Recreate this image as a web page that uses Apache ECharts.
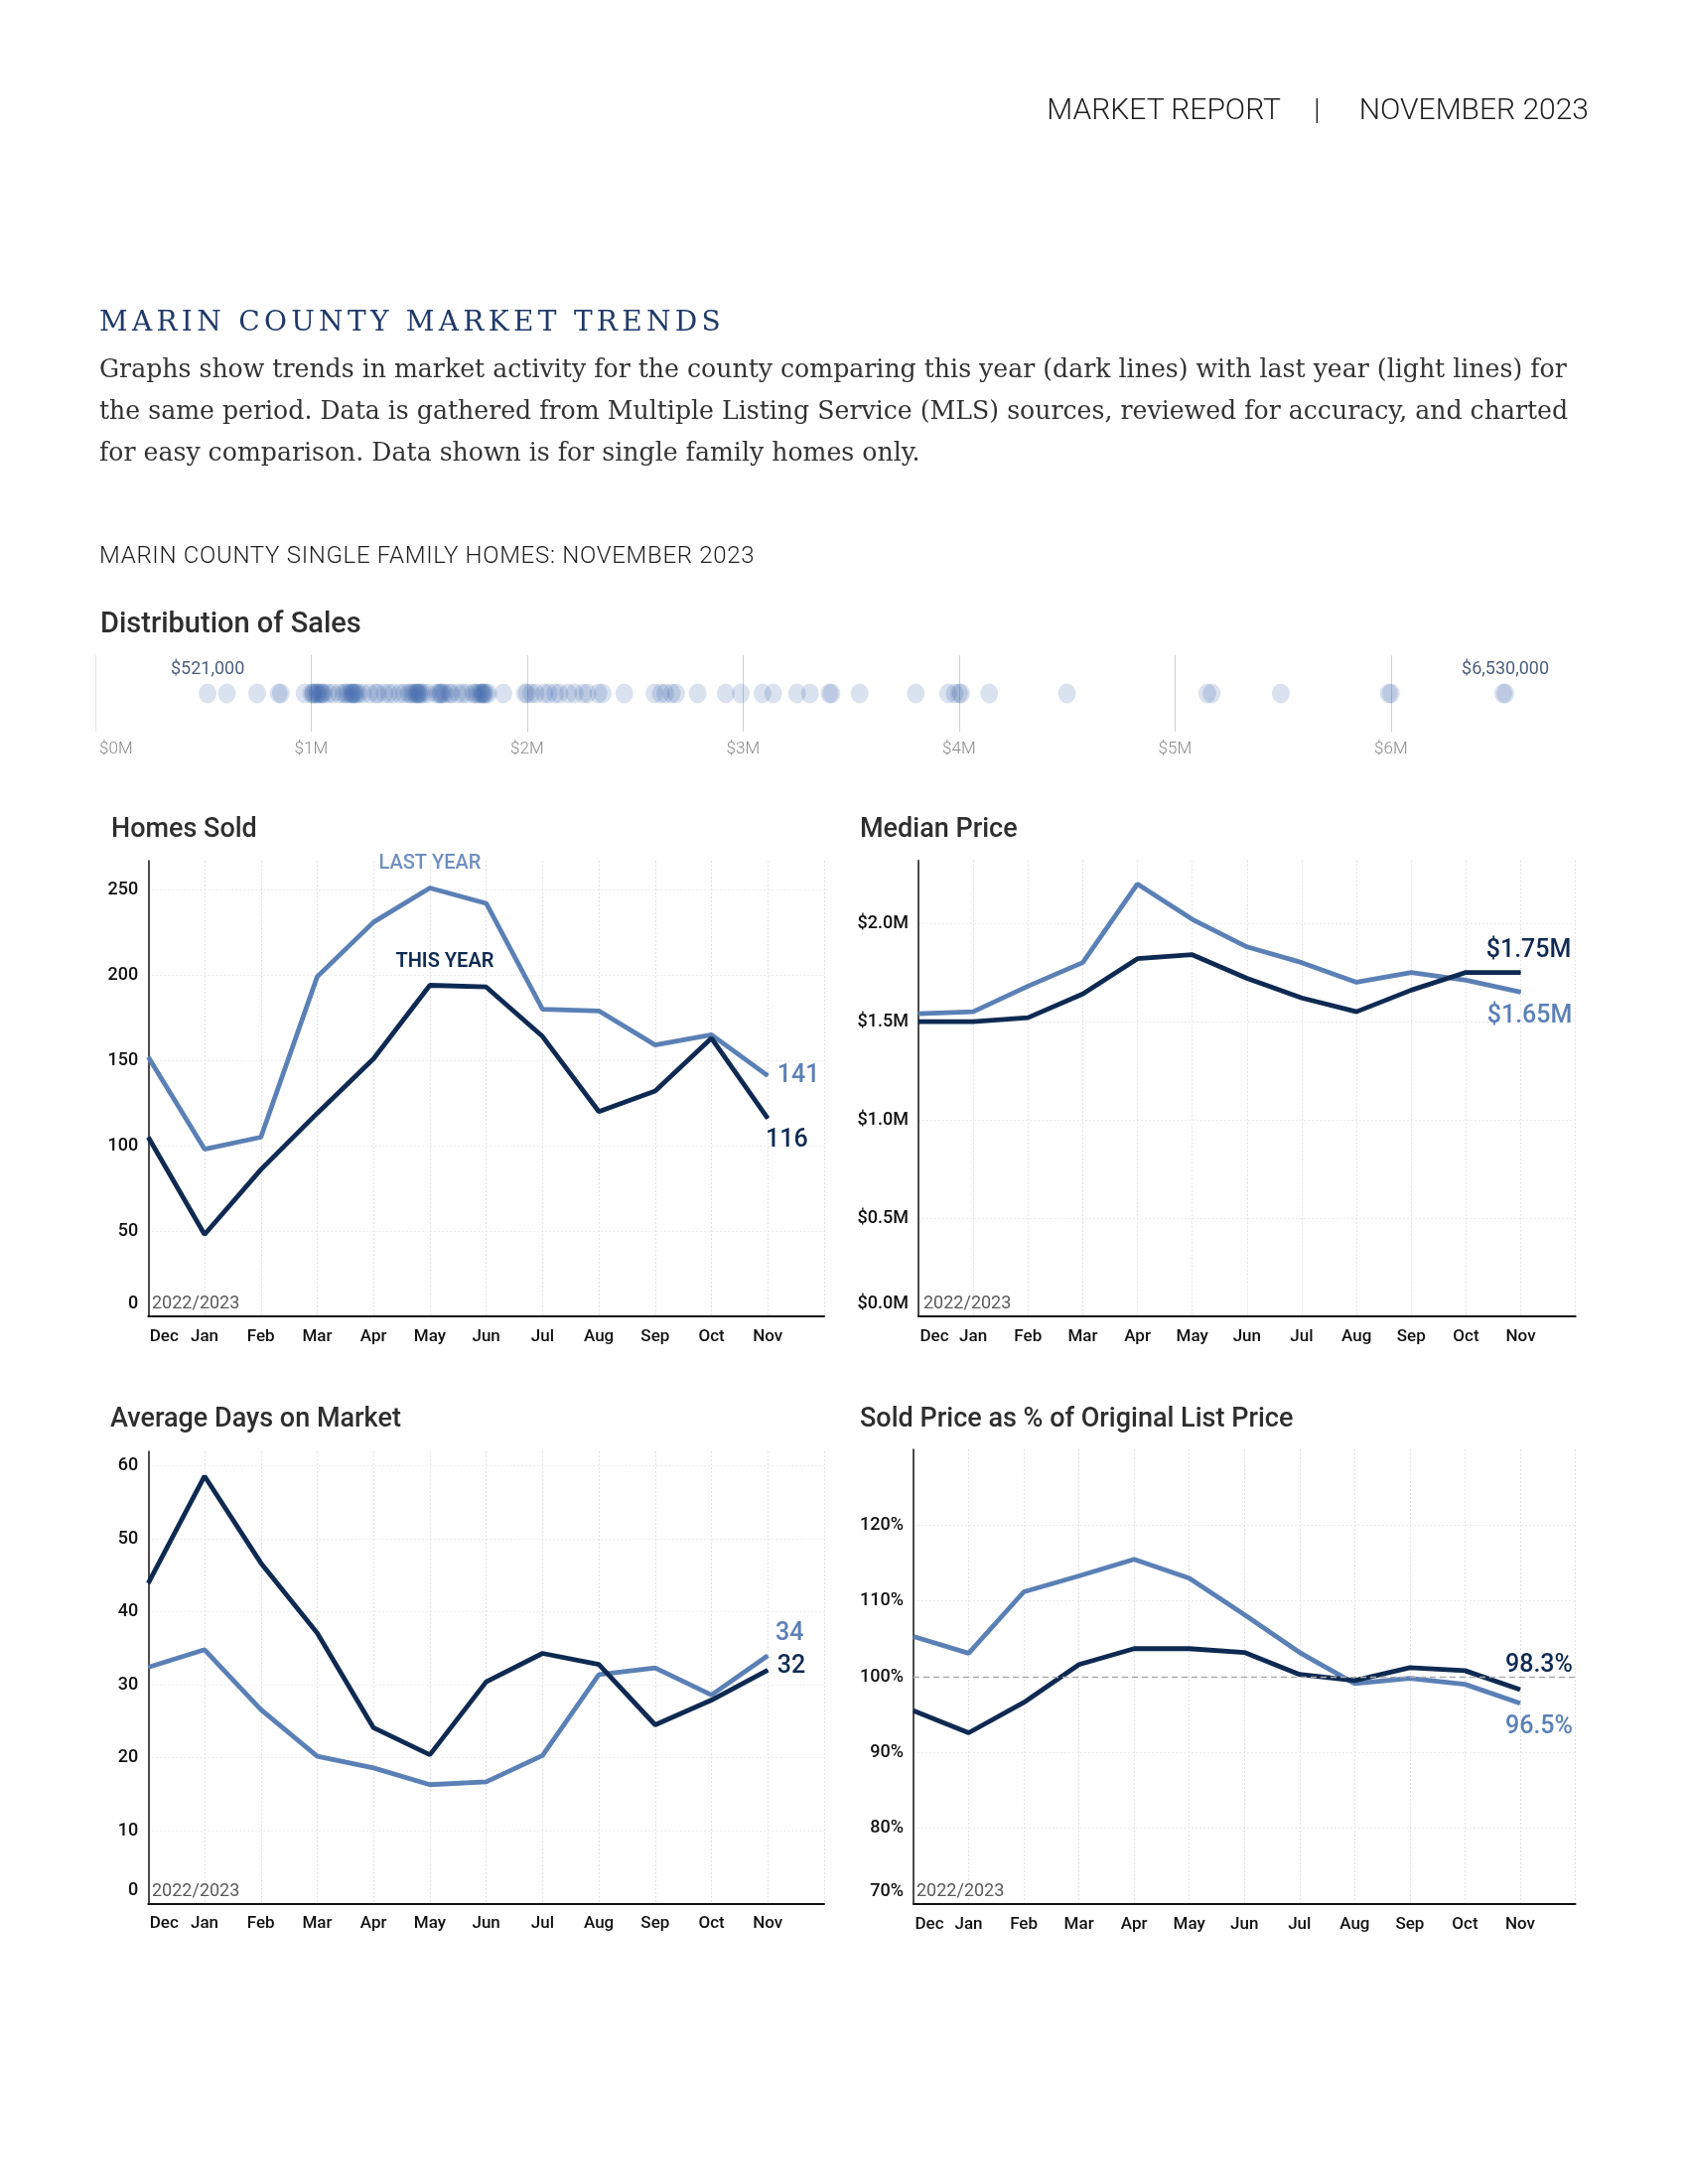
<!DOCTYPE html>
<html><head><meta charset="utf-8">
<script src="https://cdn.jsdelivr.net/npm/echarts@6/dist/echarts.min.js"></script>
<style>
html,body{margin:0;padding:0;background:#fff;}
#page{position:relative;width:1700px;height:2200px;overflow:hidden;background:#fff;}
#chart{position:absolute;left:0;top:0;width:1700px;height:2200px;}
.t{position:absolute;white-space:nowrap;}
#hdrA,#hdrB,#hdrC{font-family:Roboto,"Noto Sans",sans-serif;font-weight:300;font-size:30px;line-height:34px;top:93px;color:#1e1e1e;}
#hdrA{right:410px;} #hdrB{left:1323px;} #hdrC{right:100px;}
#ttl{left:100px;top:306px;font-family:"DejaVu Serif",serif;font-size:28px;line-height:36px;letter-spacing:4.3px;color:#1f3a68;}
#para{left:100px;top:351px;font-family:"DejaVu Serif",serif;font-size:25.2px;line-height:42px;color:#333;}
#sub{left:100px;top:544px;font-family:Roboto,"Noto Sans",sans-serif;font-weight:300;font-size:24px;line-height:30px;letter-spacing:0.7px;color:#1e1e1e;}
</style></head><body>
<div id="page">
<div id="chart"></div>
<div class="t" id="hdrA">MARKET REPORT</div>
<div class="t" id="hdrB">|</div>
<div class="t" id="hdrC">NOVEMBER 2023</div>
<div class="t" id="ttl">MARIN COUNTY MARKET TRENDS</div>
<div class="t" id="para">Graphs show trends in market activity for the county comparing this year (dark lines) with last year (light lines) for<br>the same period. Data is gathered from Multiple Listing Service (MLS) sources, reviewed for accuracy, and charted<br>for easy comparison. Data shown is for single family homes only.</div>
<div class="t" id="sub">MARIN COUNTY SINGLE FAMILY HOMES: NOVEMBER 2023</div>
</div>
<script>
// ---------------- data ----------------
const months = ['Dec','Jan','Feb','Mar','Apr','May','Jun','Jul','Aug','Sep','Oct','Nov'];
const homesSoldThisYear = [105,48,86,119,151,194,193,164,120,132,163,116];
const homesSoldLastYear = [152,98,105,199,231,251,242,180,179,159,165,141];
const medianPriceThisYear = [1.50,1.50,1.52,1.64,1.82,1.84,1.72,1.62,1.55,1.66,1.75,1.75];
const medianPriceLastYear = [1.54,1.55,1.68,1.80,2.20,2.02,1.88,1.80,1.70,1.75,1.71,1.65];
const daysOnMarketThisYear = [43.9,58.6,46.7,37.1,24.1,20.4,30.4,34.3,32.8,24.5,27.9,32];
const daysOnMarketLastYear = [32.4,34.8,26.6,20.2,18.6,16.3,16.7,20.3,31.4,32.3,28.6,34];
const pctOfListThisYear = [95.5,92.6,96.6,101.6,103.7,103.7,103.2,100.3,99.5,101.2,100.8,98.3];
const pctOfListLastYear = [105.3,103.1,111.2,113.3,115.5,113.0,108.2,103.2,99.1,99.8,99.0,96.5];
const salePricesM = [
 0.521,0.61,0.75,0.85,0.86,
 0.97,1.00,1.01,1.01,1.02,1.03,1.03,1.04,1.05,1.05,1.06,1.08,1.10,
 1.13,1.15,1.16,1.17,1.18,1.19,1.19,1.20,1.20,1.21,1.22,
 1.24,1.27,1.30,1.31,1.34,1.36,1.38,1.41,1.43,1.45,
 1.46,1.47,1.48,1.49,1.49,1.50,1.50,1.51,1.52,1.54,
 1.58,1.59,1.60,1.60,1.61,1.62,1.64,1.65,1.68,1.70,1.72,1.75,1.76,
 1.77,1.78,1.79,1.79,1.80,1.80,1.81,1.82,1.89,
 1.99,2.00,2.02,2.04,2.08,2.10,2.13,2.15,2.19,2.22,2.26,2.28,2.33,2.35,
 2.45,2.59,2.62,2.64,2.67,2.69,2.79,2.92,2.99,3.09,3.14,3.25,3.31,3.40,3.41,3.54,
 3.80,3.95,3.98,4.00,4.01,4.14,4.50,5.15,5.17,5.49,5.99,6.00,6.52,6.53
];
const periodLabel = '2022/2023';

// ---------------- styles ----------------
const DARK = '#0f2a52', LIGHT = '#5b80b6';
const FONT = 'Roboto, "Noto Sans", sans-serif';
const chart = echarts.init(document.getElementById('chart'), null, {renderer:'canvas'});

const gridsPx = [
  {left:149.3, top:867,  width:680.7, height:459},   // homes sold
  {left:925,   top:866.7,width:661.7, height:459.3}, // median price
  {left:149.3, top:1462, width:680.7, height:455.5}, // days on market
  {left:920,   top:1460, width:666.5, height:458},   // sold % list
  {left:95.8,  top:660,  width:1522.5,height:77}     // distribution strip
];

function xAxisFor(gi){
  return {
    type:'category', gridIndex:gi, data:months.concat(['']), boundaryGap:false,
    axisLine:{show:true, lineStyle:{color:'#111', width:2}}, axisTick:{show:false},
    axisLabel:{interval:0, margin:12, color:'#111', fontSize:17, fontWeight:500, fontFamily:FONT,
      formatter:(v,i)=> i===0 ? '{d|'+v+'}' : v,
      rich:{d:{padding:[0,0,0,32], color:'#111', fontSize:17, fontWeight:500, fontFamily:FONT}}},
    splitLine:{show:true, showMinLine:false, lineStyle:{color:'#e2e2e2', width:1, type:[2,2]}}
  };
}
function yAxisFor(gi, min, max, interval, fmt){
  return {
    type:'value', gridIndex:gi, min:min, max:max, interval:interval,
    axisLine:{show:true, lineStyle:{color:'#111', width:1.5}}, axisTick:{show:false},
    axisLabel:{margin:10, color:'#111', fontSize:18, fontWeight:500, fontFamily:FONT, showMaxLabel:false,
      formatter:(v)=> v===min ? '{lo|'+fmt(v)+'}' : fmt(v),
      rich:{lo:{padding:[0,0,26,0], color:'#111', fontSize:18, fontWeight:500, fontFamily:FONT}}},
    splitLine:{show:true, showMinLine:false, showMaxLine:false, lineStyle:{color:'#ebebeb', width:1, type:[2,2]}}
  };
}
function endLbl(text, color, position, distance, offset){
  return {show:true, formatter:text, color:color, position:position, distance:distance, offset:offset,
          fontSize:25, fontWeight:500, fontFamily:FONT};
}
function lineSeries(gi, values, color, z, labels){
  return {
    type:'line', xAxisIndex:gi, yAxisIndex:gi, z:z,
    symbol:'circle', symbolSize:1, showSymbol:true, showAllSymbol:true,
    lineStyle:{color:color, width:4.8}, itemStyle:{color:color},
    emphasis:{disabled:true}, silent:true, animation:false,
    data: values.map((v,i)=> labels[i] ? {value:v, label:labels[i]} : v)
  };
}
const last = months.length - 1;
function at(i, lbl){ const o = {}; o[i] = lbl; return o; }

const hsLightLabels = Object.assign(
  at(5, {show:true, formatter:'LAST YEAR', position:'top', distance:14, color:'#6f8fbf', fontSize:20, fontWeight:500, fontFamily:FONT}),
  at(last, endLbl(String(homesSoldLastYear[last]), LIGHT, 'right', 9, [0,0])));
const hsDarkLabels = Object.assign(
  at(5, {show:true, formatter:'THIS YEAR', position:'top', distance:13, offset:[15,0], color:DARK, fontSize:20, fontWeight:600, fontFamily:FONT}),
  at(last, endLbl(String(homesSoldThisYear[last]), DARK, 'bottom', 9, [19,0])));
const fmtM = v => '$' + v.toFixed(2) + 'M';
const mpDarkLabels = at(last, endLbl(fmtM(medianPriceThisYear[last]), DARK, 'top', 9, [8,0]));
const mpLightLabels = at(last, endLbl(fmtM(medianPriceLastYear[last]), LIGHT, 'bottom', 11, [9,0]));
const dmLightLabels = at(last, endLbl(String(daysOnMarketLastYear[last]), LIGHT, 'top', 9, [22,0]));
const dmDarkLabels = at(last, endLbl(String(daysOnMarketThisYear[last]), DARK, 'right', 9, [0,-4]));
const plDarkLabels = at(last, endLbl(pctOfListThisYear[last].toFixed(1)+'%', DARK, 'top', 11, [19,0]));
const plLightLabels = at(last, endLbl(pctOfListLastYear[last].toFixed(1)+'%', LIGHT, 'bottom', 11, [19,0]));

// distribution strip
const minP = Math.min.apply(null, salePricesM), maxP = Math.max.apply(null, salePricesM);
const fmtDollar = v => '$' + Math.round(v*1e6).toLocaleString('en-US');
const stripLbl = txt => ({show:true, formatter:txt, position:'top', distance:5, color:'#1d3357', fontSize:18, fontFamily:FONT});
let minDone = false, maxDone = false;
const stripData = salePricesM.map(p => {
  if (p === minP && !minDone) { minDone = true; return {value:[p,0.5], label:stripLbl(fmtDollar(p))}; }
  if (p === maxP && !maxDone) { maxDone = true; return {value:[p,0.5], label:stripLbl(fmtDollar(p))}; }
  return [p,0.5];
});

const titleStyle = {fontFamily:FONT, fontSize:27, fontWeight:500, color:'#2e2e2e', lineHeight:27};
const periodStyle = {fontFamily:FONT, fontSize:18, fontWeight:400, color:'#5a5a5a', lineHeight:18};
const option = {
  animation:false,
  backgroundColor:'#fff',
  title:[
    {text:'Distribution of Sales', left:101, top:615, padding:0, textStyle:Object.assign({}, titleStyle, {fontSize:29, lineHeight:29})},
    {text:'Homes Sold', left:112, top:823, padding:0, textStyle:titleStyle},
    {text:'Median Price', left:866, top:823, padding:0, textStyle:titleStyle},
    {text:'Average Days on Market', left:111, top:1417, padding:0, textStyle:titleStyle},
    {text:'Sold Price as % of Original List Price', left:866, top:1417, padding:0, textStyle:titleStyle},
    {text:periodLabel, left:153, top:1304, padding:0, textStyle:periodStyle},
    {text:periodLabel, left:930, top:1304, padding:0, textStyle:periodStyle},
    {text:periodLabel, left:153, top:1896, padding:0, textStyle:periodStyle},
    {text:periodLabel, left:923, top:1896, padding:0, textStyle:periodStyle}
  ],
  grid: gridsPx.map(g => Object.assign({containLabel:false}, g)),
  xAxis:[
    xAxisFor(0), xAxisFor(1), xAxisFor(2), xAxisFor(3),
    {type:'value', gridIndex:4, min:0, max:7, interval:1,
     axisLine:{show:false}, axisTick:{show:false},
     axisLabel:{showMaxLabel:false, margin:9, color:'#8a8a8a', fontSize:17, fontWeight:300, fontFamily:FONT,
       formatter:v => v===0 ? '{z|$' + v + 'M}' : '$' + v + 'M',
       rich:{z:{padding:[0,0,0,42], color:'#8a8a8a', fontSize:17, fontWeight:300, fontFamily:FONT}}},
     splitLine:{show:true, showMaxLine:false, lineStyle:{color:['#e4e4e4','#cfcfcf','#cfcfcf','#cfcfcf','#cfcfcf','#cfcfcf','#cfcfcf'], width:1}}}
  ],
  yAxis:[
    yAxisFor(0, 0, 267, 50, v => String(v)),
    yAxisFor(1, 0, 2.32, 0.5, v => '$' + v.toFixed(1) + 'M'),
    yAxisFor(2, 0, 62, 10, v => String(v)),
    yAxisFor(3, 70, 130, 10, v => v + '%'),
    {type:'value', gridIndex:4, min:0, max:1, show:false}
  ],
  series:[
    lineSeries(0, homesSoldLastYear, LIGHT, 2, hsLightLabels),
    lineSeries(0, homesSoldThisYear, DARK, 3, hsDarkLabels),
    lineSeries(1, medianPriceLastYear, LIGHT, 2, mpLightLabels),
    lineSeries(1, medianPriceThisYear, DARK, 3, mpDarkLabels),
    lineSeries(2, daysOnMarketLastYear, LIGHT, 2, dmLightLabels),
    lineSeries(2, daysOnMarketThisYear, DARK, 3, dmDarkLabels),
    Object.assign(lineSeries(3, pctOfListLastYear, LIGHT, 2, plLightLabels), {
      markLine:{silent:true, symbol:'none', label:{show:false}, lineStyle:{color:'#aaaaaa', type:[6,4], width:1.3},
                data:[{yAxis:100}]}}),
    lineSeries(3, pctOfListThisYear, DARK, 3, plDarkLabels),
    {type:'scatter', xAxisIndex:4, yAxisIndex:4, symbol:'circle', symbolSize:[18,20], silent:true,
     itemStyle:{color:'rgba(55,95,168,0.23)'}, data:stripData}
  ]
};
chart.setOption(option);
</script>
</body></html>
